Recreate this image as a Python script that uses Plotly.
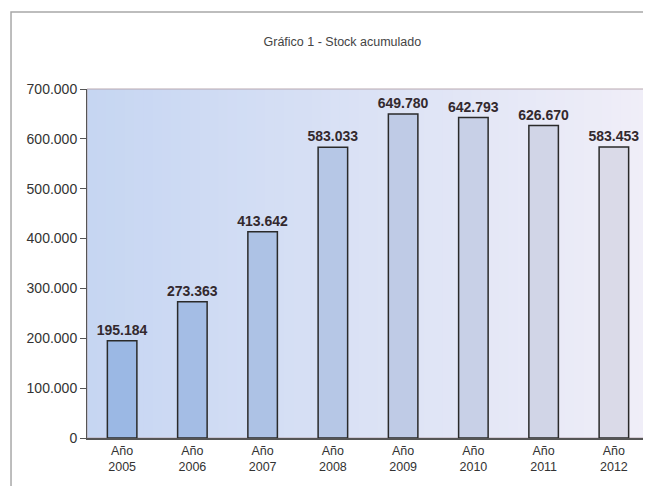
import plotly.graph_objects as go

years = ["2005", "2006", "2007", "2008", "2009", "2010", "2011", "2012"]
categories = ["Año<br>" + y for y in years]
stock = [195184, 273363, 413642, 583033, 649780, 642793, 626670, 583453]
tick_vals = [0, 100000, 200000, 300000, 400000, 500000, 600000, 700000]
tick_text = ["0", "100.000", "200.000", "300.000", "400.000", "500.000", "600.000", "700.000"]


def fmt(v):
    return f"{v:,}".replace(",", ".")


def lerp(c1, c2, t):
    return "rgb(%d,%d,%d)" % tuple(round(a + (b - a) * t) for a, b in zip(c1, c2))


bar_left, bar_right = (155, 184, 228), (218, 218, 232)
n = len(stock)
bar_colors = [lerp(bar_left, bar_right, i / (n - 1)) for i in range(n)]

fig = go.Figure(go.Bar(
    x=categories, y=stock,
    marker=dict(color=bar_colors, line=dict(color="#2a2a2a", width=1.5)),
    text=[fmt(v) for v in stock], textposition="outside", constraintext="none",
    textfont=dict(family="Arial, Liberation Sans, sans-serif", size=14, color="#33292e", weight="bold"),
    cliponaxis=False,
))

# gradient plot background
shapes = []
steps = 60
bg_left, bg_right = (198, 214, 242), (240, 238, 248)
for i in range(steps):
    shapes.append(dict(type="rect", xref="x domain", yref="y domain",
                       x0=i / steps, x1=(i + 1) / steps + 0.002, y0=0, y1=1,
                       fillcolor=lerp(bg_left, bg_right, i / (steps - 1)),
                       line=dict(width=0), layer="below"))
# plot area border
shapes.append(dict(type="rect", xref="x domain", yref="y domain", x0=0, x1=1, y0=0, y1=1,
                   line=dict(color="#b8a8b0", width=1), layer="below"))
# outer frame
shapes.append(dict(type="rect", xref="paper", yref="paper", x0=-0.1352, x1=1.05, y0=-0.2, y1=1.2206,
                   line=dict(color="#a8a8a8", width=1.5), layer="below"))

fig.update_layout(
    width=643, height=478,
    margin=dict(l=79, r=2, t=81, b=48),
    paper_bgcolor="white", plot_bgcolor="rgba(0,0,0,0)",
    title=dict(text="Gráfico 1 - Stock acumulado", x=0.52, xanchor="center", y=0.929, yanchor="middle",
               font=dict(family="Arial, Liberation Sans, sans-serif", size=12.5, color="#444")),
    bargap=0.58,
    showlegend=False,
    shapes=shapes,
    font=dict(family="Arial, Liberation Sans, sans-serif", size=12, color="#333"),
)
fig.update_yaxes(range=[0, 700000], tickvals=tick_vals, ticktext=tick_text,
                 showgrid=False, zeroline=False, showline=True, linecolor="#555", linewidth=1,
                 ticks="outside", ticklen=6, tickcolor="#555",
                 tickfont=dict(size=14, color="#333"))
fig.update_xaxes(showgrid=False, showline=True, linecolor="#555", linewidth=1.5,
                 ticks="", tickfont=dict(size=12.5, color="#333"))

fig.write_html("out.html")
